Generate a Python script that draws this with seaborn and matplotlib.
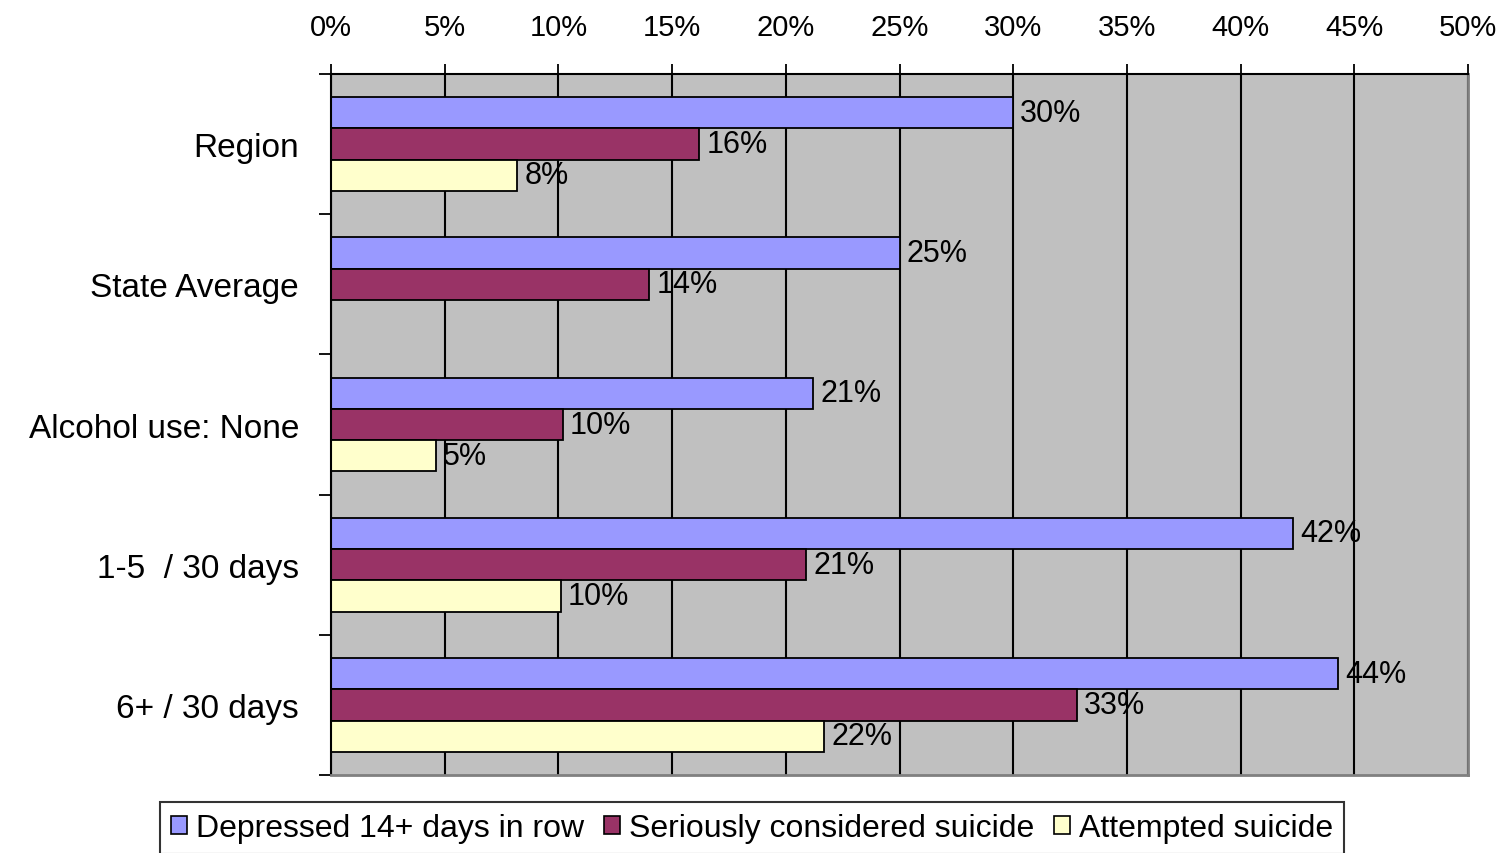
import numpy as np
import pandas as pd
import matplotlib
matplotlib.use('Agg')
import matplotlib.pyplot as plt
import seaborn as sns

# data
groups = ["Region", "State Average", "Alcohol use: None", "1-5  / 30 days", "6+ / 30 days"]
series = ["Depressed 14+ days in row", "Seriously considered suicide", "Attempted suicide"]
depressed = [30.0, 25.0, 21.2, 42.3, 44.3]
considered = [16.2, 14.0, 10.2, 20.9, 32.8]
attempted = [8.2, np.nan, 4.6, 10.1, 21.7]
x_ticks = list(range(0, 55, 5))

colors = ["#9999FF", "#993366", "#FFFFCC"]

sns.set_theme(style="white")
plt.rcParams["font.family"] = ["Liberation Sans", "DejaVu Sans"]
plt.rcParams["text.color"] = "black"
plt.rcParams["xtick.color"] = "black"
plt.rcParams["ytick.color"] = "black"

df = pd.DataFrame({
    "group": groups * 3,
    "series": [s for s in series for _ in groups],
    "value": depressed + considered + attempted,
})

fig = plt.figure(figsize=(15.07, 8.54), dpi=100)
ax = fig.add_axes([331 / 1507, 1 - 776 / 854, (1468 - 331) / 1507, (776 - 75) / 854])

sns.barplot(data=df, x="value", y="group", hue="series", order=groups,
            hue_order=series, palette=colors, orient="h", width=0.67,
            edgecolor="black", linewidth=1.3, saturation=1, ax=ax,
            errorbar=None, legend=False)

for cont in ax.containers:
    labels = ["" if np.isnan(v) else f"{v:.0f}%" for v in cont.datavalues]
    ax.bar_label(cont, labels=labels, padding=5, fontsize=22, color="black")

ax.set_facecolor("#C0C0C0")
ax.set_xlim(0, 50)
ax.set_ylim(4.5, -0.5)
ax.xaxis.tick_top()
ax.set_xticks(x_ticks)
ax.set_xticklabels([f"{t}%" for t in x_ticks], fontsize=21)
ax.tick_params(axis="x", direction="out", length=7, width=1.3, color="black",
               pad=17, top=True, bottom=False)
ax.set_yticks(range(len(groups)))
ax.set_yticklabels(groups, fontsize=24)
ax.set_yticks(np.arange(-0.5, len(groups), 1), minor=True)
ax.tick_params(axis="y", which="major", length=0, pad=23, left=True)
ax.tick_params(axis="y", which="minor", direction="out", length=9, width=1.3,
               color="black", left=True)
ax.set_xlabel("")
ax.set_ylabel("")
ax.grid(axis="x", color="black", linewidth=1.5)
ax.set_axisbelow(True)

ax.spines["top"].set_color("black")
ax.spines["left"].set_color("black")
ax.spines["top"].set_linewidth(1.5)
ax.spines["left"].set_linewidth(1.5)
ax.spines["right"].set_color("#808080")
ax.spines["bottom"].set_color("#808080")
ax.spines["right"].set_linewidth(2)
ax.spines["bottom"].set_linewidth(2)

handles = [plt.Rectangle((0, 0), 1, 1, facecolor=c, edgecolor="black", linewidth=1.2)
           for c in colors]
leg = fig.legend(handles, series, loc="upper center", bbox_to_anchor=(0.499, 1 - 803 / 854),
                 ncol=3, fontsize=23, frameon=True, fancybox=False, edgecolor="black",
                 handlelength=0.5, handleheight=0.5, handletextpad=0.3, columnspacing=0.6,
                 borderpad=0.35, borderaxespad=0)
leg.get_frame().set_linewidth(1.5)

fig.savefig("out.png", dpi=100)
